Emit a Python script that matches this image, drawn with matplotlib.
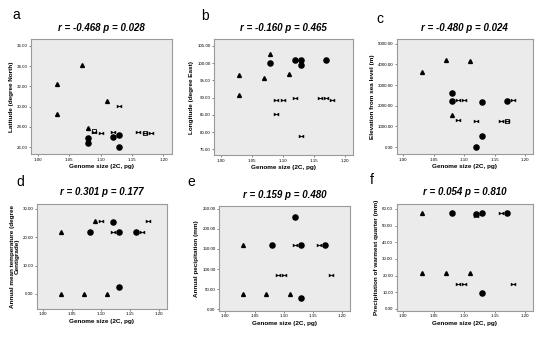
import numpy as np
import matplotlib
matplotlib.use("Agg")
from matplotlib import pyplot as plt
from matplotlib.path import Path

plt.rcParams['font.family'] = ['Liberation Sans', 'DejaVu Sans']

# genome size (2C, pg) vs. environmental variables, three marker groups per panel
lat_tri = [(1.03, 32.2), (1.03, 29.3), (1.07, 34.1), (1.08, 27.9), (1.11, 30.6)]
lat_dot = [(1.08, 26.9), (1.08, 26.4), (1.12, 27.0), (1.13, 27.2), (1.13, 26.0)]
lat_bow = [(1.13, 30.1), (1.09, 27.5), (1.10, 27.4), (1.12, 27.45), (1.16, 27.45),
           (1.17, 27.4), (1.18, 27.4)]
lat_mix = [(1.09, 27.55), (1.17, 27.35)]

lon_tri = [(1.03, 96.5), (1.03, 90.8), (1.07, 95.8), (1.08, 102.5), (1.11, 96.7)]
lon_dot = [(1.08, 100.0), (1.12, 100.8), (1.13, 100.8), (1.13, 99.3), (1.17, 100.8)]
lon_bow = [(1.09, 89.3), (1.10, 89.3), (1.09, 85.3), (1.12, 89.9), (1.13, 78.9),
           (1.16, 90.0), (1.17, 89.9), (1.18, 89.4)]
lon_mix = []

ele_tri = [(1.03, 3620), (1.07, 4200), (1.11, 4170), (1.08, 1550)]
ele_dot = [(1.08, 2620), (1.08, 2220), (1.13, 2190), (1.17, 2250), (1.13, 560), (1.12, 0)]
ele_bow = [(1.09, 2270), (1.10, 2270), (1.09, 1300), (1.12, 1250), (1.16, 1250),
           (1.17, 1270), (1.18, 2270)]
ele_mix = [(1.17, 1270)]

tem_tri = [(1.03, 22.0), (1.09, 25.8), (1.03, -0.2), (1.07, -0.2), (1.11, -0.2)]
tem_dot = [(1.08, 22.0), (1.12, 25.3), (1.13, 22.0), (1.16, 22.0), (1.13, 2.5)]
tem_bow = [(1.10, 25.8), (1.12, 22.0), (1.17, 22.0), (1.18, 25.8)]
tem_mix = []

pre_tri = [(1.03, 160), (1.03, 38), (1.07, 38), (1.11, 38)]
pre_dot = [(1.08, 159), (1.12, 230), (1.13, 159), (1.17, 159), (1.13, 27)]
pre_bow = [(1.12, 160), (1.16, 160), (1.09, 84), (1.10, 84), (1.18, 84)]
pre_mix = []

war_tri = [(1.03, 57.5), (1.03, 21.3), (1.07, 21.3), (1.11, 21.3)]
war_dot = [(1.08, 57.5), (1.13, 57.5), (1.17, 57.5), (1.13, 9.5), (1.12, 57.0)]
war_bow = [(1.16, 57.5), (1.09, 15.2), (1.10, 15.2), (1.18, 15.2), (1.12, 55.6)]
war_mix = []

letters = ['a', 'b', 'c', 'd', 'e', 'f']
titles = ['r = -0.468 p = 0.028', 'r = -0.160 p = 0.465', 'r = -0.480 p = 0.024',
          'r = 0.301 p = 0.177', 'r = 0.159 p = 0.480', 'r = 0.054 p = 0.810']
ylabels = ['Latitude (degree North)', 'Longitude (degree East)',
           'Elevation from sea level (m)',
           'Annual mean temperature (degree\nCentigrade)',
           'Annual pecipitation (mm)', 'Precipitation of warmest quarter (mm)']
yticks = [np.arange(26, 37, 2), np.arange(75, 106, 5), np.arange(0, 5001, 1000),
          np.arange(0, 31, 10), np.arange(0, 251, 50), np.arange(0, 61, 10)]
ylims = [(25.3, 36.7), (73.3, 107.0), (-340, 5240), (-5.3, 31.8), (-4, 257), (-1, 63)]
xticks = [1.00, 1.05, 1.10, 1.15, 1.20]

panels = [(lat_tri, lat_dot, lat_bow, lat_mix), (lon_tri, lon_dot, lon_bow, lon_mix),
          (ele_tri, ele_dot, ele_bow, ele_mix), (tem_tri, tem_dot, tem_bow, tem_mix),
          (pre_tri, pre_dot, pre_bow, pre_mix), (war_tri, war_dot, war_bow, war_mix)]

# axes rectangles in figure fraction
boxes = [(0.056, 0.544, 0.256, 0.341), (0.389, 0.541, 0.252, 0.344),
         (0.721, 0.544, 0.248, 0.341), (0.067, 0.086, 0.236, 0.311),
         (0.398, 0.081, 0.238, 0.309), (0.721, 0.081, 0.248, 0.316)]
letter_pos = [(0.022, 0.955), (0.366, 0.952), (0.685, 0.945),
              (0.030, 0.462), (0.340, 0.462), (0.672, 0.468)]

# bowtie marker
bowtie = Path([(-1, -0.6), (0, 0), (-1, 0.6), (-1, -0.6),
               (1, -0.6), (0, 0), (1, 0.6), (1, -0.6)],
              [Path.MOVETO, Path.LINETO, Path.LINETO, Path.CLOSEPOLY,
               Path.MOVETO, Path.LINETO, Path.LINETO, Path.CLOSEPOLY])


def xy(pts):
    if not pts:
        return [], []
    a = np.array(pts, dtype=float)
    return a[:, 0], a[:, 1]


def fmt_tick(v):
    return f'{v:.2f}'


fig = plt.figure(figsize=(5.5, 3.38), dpi=100)

for i, (tri, dot, bow, mix) in enumerate(panels):
    ax = fig.add_axes(boxes[i])
    ax.set_facecolor('#ebebeb')
    for s in ax.spines.values():
        s.set_color('#9a9a9a')
        s.set_linewidth(0.8)

    x, y = xy(tri)
    ax.plot(x, y, linestyle='none', marker='^', ms=2.8, color='black')
    x, y = xy(dot)
    ax.plot(x, y, linestyle='none', marker='o', ms=3.7, color='black')
    x, y = xy(bow)
    ax.plot(x, y, linestyle='none', marker=bowtie, ms=3.6, color='black', mew=0.3)
    x, y = xy(mix)
    ax.plot(x, y, linestyle='none', marker='s', ms=2.8, mfc='none', mec='black', mew=0.6)

    ax.set_xlim(0.989, 1.213)
    ax.set_ylim(*ylims[i])
    ax.set_xticks(xticks)
    ax.set_xticklabels([fmt_tick(v) for v in xticks])
    ax.set_yticks(yticks[i])
    ax.set_yticklabels([fmt_tick(v) for v in yticks[i]])
    ax.tick_params(labelsize=3.2, length=1.5, width=0.5, color='#555555', pad=1)

    ax.set_xlabel('Genome size (2C, pg)', fontsize=4.6, fontweight='bold', labelpad=2)
    ax.set_ylabel(ylabels[i], fontsize=4.6, fontweight='bold', labelpad=2,
                  linespacing=1.0)
    ax.set_title(titles[i], fontsize=7, fontweight='bold', style='italic', pad=6)
    fig.text(letter_pos[i][0], letter_pos[i][1], letters[i], fontsize=10,
             ha='left', va='center')

fig.savefig('out.png', dpi=100)
